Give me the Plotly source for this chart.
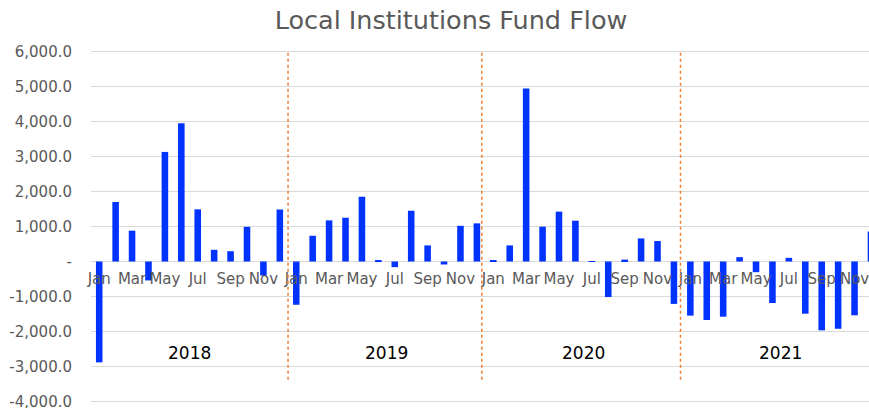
import plotly.graph_objects as go

months = ["Jan", "Feb", "Mar", "Apr", "May", "Jun", "Jul", "Aug", "Sep", "Oct", "Nov", "Dec"]
years = ["2018", "2019", "2020", "2021"]
categories = [f"{m} {y}" for y in years for m in months]

values_2018 = [-2880, 1700, 880, -540, 3130, 3950, 1490, 335, 295, 990, -400, 1485]
values_2019 = [-1235, 735, 1175, 1250, 1850, 30, -160, 1450, 460, -85, 1020, 1090]
values_2020 = [20, 460, 4940, 995, 1425, 1165, 10, -1015, 55, 660, 585, -1210]
values_2021 = [-1545, -1670, -1575, 125, -305, -1185, 105, -1490, -1965, -1920, -1535, 860]
values = values_2018 + values_2019 + values_2020 + values_2021

month_tick_labels = ["Jan", "Mar", "May", "Jul", "Sep", "Nov"]
y_tick_values = [6000, 5000, 4000, 3000, 2000, 1000, 0, -1000, -2000, -3000, -4000]
y_tick_labels = ["6,000.0", "5,000.0", "4,000.0", "3,000.0", "2,000.0", "1,000.0", "-",
                 "-1,000.0", "-2,000.0", "-3,000.0", "-4,000.0"]
separator_positions = [11.5, 23.3, 35.4]

FONT = "DejaVu Sans"
GREY = "#595959"

Y_MIN, Y_MAX = -4040, 6040

fig = go.Figure()
fig.add_trace(go.Bar(x=categories, y=values, marker=dict(color="#0033FF", line=dict(width=0))))

tickvals_x = [c for c in categories if c.split()[0] in month_tick_labels]
ticktext_x = [c.split()[0] for c in tickvals_x]

fig.update_layout(
    width=869, height=408,
    margin=dict(l=91, r=0, t=50, b=5, autoexpand=False),
    paper_bgcolor="white", plot_bgcolor="white",
    bargap=0.6,
    showlegend=False,
    title=dict(text="Local Institutions Fund Flow", x=451 / 869, xanchor="center",
               y=1 - 20.5 / 408, yanchor="middle",
               font=dict(family=FONT, size=25.5, color=GREY)),
    xaxis=dict(type="category", range=[-0.5, 46.88], tickvals=tickvals_x, ticktext=ticktext_x,
               anchor="free", position=(0 - Y_MIN) / (Y_MAX - Y_MIN),
               showgrid=False, showline=False, ticks="",
               tickangle=0, automargin=False, ticklabeloverflow="allow",
               tickfont=dict(family=FONT, size=15, color=GREY),
               ticklabelstandoff=6),
    yaxis=dict(range=[Y_MIN, Y_MAX], tickvals=y_tick_values, ticktext=y_tick_labels,
               showgrid=True, gridcolor="#D9D9D9", gridwidth=1,
               zeroline=True, zerolinecolor="#D9D9D9", zerolinewidth=1,
               ticks="", ticklabelstandoff=18, automargin=False, ticklabeloverflow="allow",
               tickfont=dict(family=FONT, size=15, color=GREY)),
)

for xs in separator_positions:
    fig.add_shape(type="line", xref="x", yref="y", x0=xs, x1=xs, y0=5960, y1=-3380,
                  line=dict(color="#ED7D31", width=1.5, dash="dot"))

for i, y in enumerate(years):
    fig.add_annotation(x=12 * i + 5.5, y=-2600, xref="x", yref="y", text=y, showarrow=False,
                       font=dict(family=FONT, size=17, color="black"), bgcolor="white")

fig.write_html("out.html", config={"displayModeBar": False},
               post_script="document.body.style.margin='0';document.body.style.overflow='hidden';")
